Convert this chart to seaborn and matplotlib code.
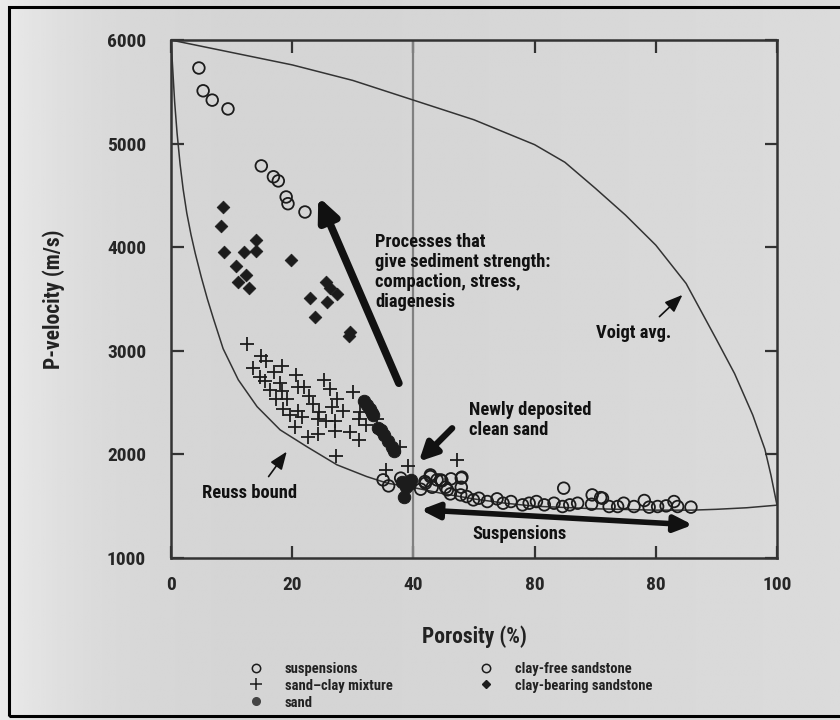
import numpy as np
import pandas as pd
import seaborn as sns
import matplotlib
matplotlib.use("Agg")
from matplotlib import pyplot as plt
from matplotlib import font_manager as fm
from matplotlib.lines import Line2D
from matplotlib.patches import Rectangle

# ---- data ----
suspensions_x = [35.0, 35.9, 37.9, 41.2, 42.0, 42.8, 43.1, 44.5, 45.6, 41.9, 42.8, 43.9, 44.7,
                 45.3, 46.2, 46.1, 47.9, 47.9, 47.8, 48.8, 49.9, 50.8, 52.2, 53.8, 54.8, 56.1,
                 58.0, 59.1, 60.3, 61.6, 63.2, 64.6, 65.8, 67.1, 64.8, 69.5, 70.9, 69.4, 72.3,
                 73.7, 74.7, 76.4, 78.1, 78.9, 80.3, 81.7, 83.0, 83.6, 85.8, 48.0, 71.2]
suspensions_y = [1754, 1696, 1771, 1664, 1722, 1786, 1683, 1754, 1658, 1738, 1802, 1754, 1745,
                 1683, 1764, 1619, 1771, 1683, 1609, 1593, 1561, 1577, 1545, 1571, 1529, 1545,
                 1513, 1529, 1545, 1513, 1529, 1497, 1513, 1529, 1674, 1609, 1583, 1519, 1497,
                 1497, 1529, 1497, 1555, 1491, 1497, 1503, 1545, 1497, 1491, 1780, 1577]

sand_clay_x = [12.5, 14.8, 15.6, 13.6, 18.3, 14.7, 15.5, 17.0, 20.7, 18.0, 16.4, 18.3, 21.0,
               22.0, 17.3, 19.1, 22.7, 23.4, 18.5, 19.7, 20.9, 21.6, 20.5, 22.6, 24.2, 25.3,
               26.2, 27.4, 26.6, 24.5, 24.2, 25.5, 27.1, 27.0, 27.2, 30.0, 28.3, 31.0, 31.2,
               32.1, 29.6, 31.0, 34.0, 34.5, 37.8, 35.4, 39.1, 47.2]
sand_clay_y = [3063, 2950, 2899, 2835, 2854, 2745, 2712, 2793, 2764, 2687, 2620, 2610, 2654,
               2649, 2533, 2533, 2565, 2487, 2436, 2381, 2423, 2365, 2269, 2166, 2195, 2716,
               2632, 2539, 2456, 2413, 2340, 2323, 2323, 2227, 1986, 2600, 2420, 2340, 2407,
               2285, 2220, 2140, 2340, 2220, 2075, 1850, 1889, 1947]

sand_x = [31.8, 32.3, 32.9, 33.2, 33.4, 34.1, 34.7, 35.2, 35.8, 36.5, 36.8, 39.6, 39.2, 38.8,
          38.5, 38.1]
sand_y = [2520, 2478, 2436, 2398, 2381, 2253, 2236, 2188, 2133, 2075, 2037, 1754, 1715, 1683,
          1593, 1738]

clay_free_x = [4.6, 5.3, 6.8, 9.4, 14.9, 16.9, 17.7, 19.0, 19.3, 22.1]
clay_free_y = [5730, 5510, 5420, 5335, 4785, 4680, 4640, 4485, 4420, 4340]

clay_bearing_x = [8.6, 8.3, 8.8, 12.1, 14.0, 14.0, 10.7, 12.3, 11.0, 12.8, 19.8, 25.6, 26.3,
                  27.4, 23.0, 25.8, 23.8, 29.6, 29.3]
clay_bearing_y = [4390, 4205, 3955, 3955, 4070, 3965, 3820, 3730, 3660, 3610, 3880, 3660, 3610,
                  3550, 3505, 3475, 3330, 3180, 3140]

# bound curves, points
reuss_x = [0, 0.3, 0.6, 1.0, 1.5, 2.0, 2.6, 3.3, 4.0, 5.0, 6.0, 7.0, 8.6, 11.1, 14.2, 18.0,
           22.4, 27.4, 32.3, 35.7, 40, 45, 50, 55, 60, 70, 80, 86, 90, 95, 100]
reuss_y = [6000, 5700, 5400, 5100, 4800, 4560, 4330, 4120, 3940, 3710, 3500, 3310, 3020, 2720,
           2461, 2237, 2075, 1899, 1786, 1722, 1680, 1620, 1570, 1530, 1500, 1475, 1462, 1462,
           1470, 1485, 1510]

voigt_x = [0, 10, 20, 30, 40, 50, 60, 65, 70, 75, 80, 85, 90, 93, 96, 98, 99, 100]
voigt_y = [6000, 5880, 5760, 5610, 5420, 5230, 4990, 4820, 4570, 4310, 4020, 3650, 3110, 2780,
           2380, 2050, 1800, 1510]

x_ticks = [0, 20, 40, 60, 80, 100]
x_tick_labels = ["0", "20", "40", "80", "80", "100"]
y_ticks = [1000, 2000, 3000, 4000, 5000, 6000]

groups = {
    "suspensions": (suspensions_x, suspensions_y),
    "sand\u2013clay mixture": (sand_clay_x, sand_clay_y),
    "sand": (sand_x, sand_y),
    "clay-free sandstone": (clay_free_x, clay_free_y),
    "clay-bearing sandstone": (clay_bearing_x, clay_bearing_y),
}
df = pd.concat([pd.DataFrame({"porosity": v[0], "vp": v[1], "group": k}) for k, v in groups.items()])

sns.set_theme(style="ticks")
installed = {f.name for f in fm.fontManager.ttflist}
main_font = next((f for f in ["Liberation Sans Narrow", "Roboto Condensed", "Roboto"] if f in installed),
                 "DejaVu Sans")
plt.rcParams["font.family"] = [main_font, "DejaVu Sans"]
plt.rcParams["font.weight"] = "bold"
ink = "#1c1c1c"

fig = plt.figure(figsize=(8.4, 7.2), dpi=100)
fig.patch.set_facecolor("#d2d2d2")

# soft grey gradient backdrop like the scanned page
bg = fig.add_axes([0, 0, 1, 1], zorder=-5)
gx = np.linspace(0, 1, 300)
grad = 0.81 + 0.11 * np.exp(-gx / 0.12) + 0.05 * gx
bg.imshow(np.tile(grad, (10, 1)), aspect="auto", cmap="gray", vmin=0, vmax=1, extent=[0, 1, 0, 1])
bg.axis("off")
fig.patches.append(Rectangle((0.011, 0.006), 1.2, 0.984, transform=fig.transFigure,
                             fill=False, lw=2.2, edgecolor="black"))

ax = fig.add_axes([0.2036, 0.225, 0.7214, 0.7194])
ax.set_facecolor("none")

# bounds
sns.lineplot(x=reuss_x, y=reuss_y, sort=False, estimator=None, color="#333333", lw=1.1, ax=ax)
sns.lineplot(x=voigt_x, y=voigt_y, sort=False, estimator=None, color="#333333", lw=1.1, ax=ax)
ax.axvline(40, color="#808080", lw=1.6, zorder=1)

styles = {
    "suspensions": dict(marker="o", s=70, facecolor="none", edgecolor=ink, linewidth=1.3),
    "sand\u2013clay mixture": dict(marker="+", s=90, color=ink, linewidth=1.3),
    "sand": dict(marker="o", s=80, color=ink, edgecolor=ink),
    "clay-free sandstone": dict(marker="o", s=70, facecolor="none", edgecolor=ink, linewidth=1.3),
    "clay-bearing sandstone": dict(marker="D", s=42, color=ink, edgecolor=ink),
}
for name, st in styles.items():
    sub = df[df["group"] == name]
    sns.scatterplot(data=sub, x="porosity", y="vp", ax=ax, legend=False, zorder=3, **st)

ax.set_xlim(0, 100)
ax.set_ylim(1000, 6000)
ax.set_xticks(x_ticks)
ax.set_xticklabels(x_tick_labels)
ax.set_yticks(y_ticks)
ax.tick_params(direction="in", length=9, width=1.6, color="#333333", top=True, right=True,
               labelsize=14, labelcolor="#262626")
ax.tick_params(axis="x", pad=13)
ax.tick_params(axis="y", pad=18)
for lab in ax.get_xticklabels() + ax.get_yticklabels():
    lab.set_fontweight("bold")
for sp in ax.spines.values():
    sp.set_linewidth(1.8)
    sp.set_color("#333333")

ax.set_xlabel("Porosity (%)", fontsize=15.5, fontweight="bold", color="#222222")
ax.set_ylabel("P-velocity (m/s)", fontsize=15.5, fontweight="bold", color="#222222")
ax.xaxis.set_label_coords(0.5, -0.13)
ax.yaxis.set_label_coords(-0.175, 0.5)

tkw = dict(fontsize=13.3, fontweight="bold", color="#111111")
ax.text(33.7, 4140, "Processes that\ngive sediment strength:\ncompaction, stress,\ndiagenesis",
        va="top", ha="left", linespacing=1.15, **tkw)
ax.annotate("", xy=(24.3, 4488), xytext=(37.6, 2687),
            arrowprops=dict(arrowstyle="-|>,head_length=1.1,head_width=0.5", lw=5.5,
                            color="#111111", shrinkA=0, shrinkB=0))

ax.text(70.1, 3173, "Voigt avg.", va="center", ha="left", **tkw)
ax.annotate("", xy=(84.4, 3540), xytext=(80.6, 3330),
            arrowprops=dict(arrowstyle="-|>,head_length=0.9,head_width=0.35", lw=1.2,
                            color="#111111", shrinkA=0, shrinkB=0))

ax.text(5.1, 1632, "Reuss bound", va="center", ha="left", **tkw)
ax.annotate("", xy=(19.1, 2027), xytext=(16.1, 1786),
            arrowprops=dict(arrowstyle="-|>,head_length=0.9,head_width=0.35", lw=1.2,
                            color="#111111", shrinkA=0, shrinkB=0))

ax.text(49.2, 2330, "Newly deposited\nclean sand", va="center", ha="left", linespacing=1.15, **tkw)
ax.annotate("", xy=(40.9, 1931), xytext=(46.4, 2253),
            arrowprops=dict(arrowstyle="-|>,head_length=0.9,head_width=0.45", lw=4.5,
                            color="#111111", shrinkA=0, shrinkB=0))

ax.text(49.7, 1233, "Suspensions", va="center", ha="left", **tkw)
ax.annotate("", xy=(86.1, 1320), xytext=(41.2, 1465),
            arrowprops=dict(arrowstyle="<|-|>,head_length=0.9,head_width=0.4", lw=4,
                            color="#111111", shrinkA=0, shrinkB=0))

# legend below the axis label
handles = [
    Line2D([], [], ls="none", marker="o", ms=6, mfc="none", mec=ink, mew=1.1),
    Line2D([], [], ls="none", marker="+", ms=8, color=ink, mew=1.1),
    Line2D([], [], ls="none", marker="o", ms=5.5, color="#444444"),
    Line2D([], [], ls="none", marker="o", ms=6, mfc="none", mec=ink, mew=1.1),
    Line2D([], [], ls="none", marker="D", ms=4.5, color=ink),
]
leg = fig.legend(handles, list(styles.keys()), ncol=2, loc="upper left",
                 bbox_to_anchor=(0.296, 0.081), frameon=False, fontsize=10.5,
                 handlelength=1.0, handletextpad=1.47, columnspacing=5.9,
                 labelspacing=0.2, borderpad=0, borderaxespad=0)
for t in leg.get_texts():
    t.set_fontweight("bold")
    t.set_color("#222222")

fig.savefig("out.png", dpi=100)
